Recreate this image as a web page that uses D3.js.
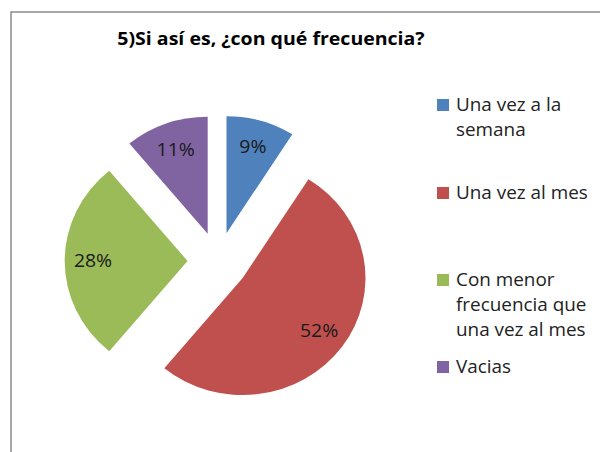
<!DOCTYPE html>
<html>
<head>
<meta charset="utf-8">
<script src="https://cdn.jsdelivr.net/npm/d3@7"></script>
<style>
  body { margin: 0; background: #fff; }
  svg { display: block; font-family: "Open Sans", Lato, sans-serif; }
</style>
</head>
<body>
<svg class="board" width="600" height="452"></svg>
<script>
var title = '5)Si así es, ¿con qué frecuencia?';
var categories = ['Una vez a la semana', 'Una vez al mes', 'Con menor frecuencia que una vez al mes', 'Vacias'];
var legendLines = [['Una vez a la', 'semana'], ['Una vez al mes'], ['Con menor', 'frecuencia que', 'una vez al mes'], ['Vacias']];
var values = [9, 52, 28, 11];
var colors = ['#4F81BD', '#C0504D', '#9BBB59', '#8064A2'];

var board = d3.select('.board');
// the whole picture is a little wider than tall
var stretch = 1.05;

// chart frame, runs off the right and bottom edges
board.append('rect')
  .attr('x', 11).attr('y', 12)
  .attr('width', 620).attr('height', 460)
  .attr('fill', '#fff')
  .attr('stroke', '#8a8a8a')
  .attr('stroke-width', 1.5);

board.append('text')
  .attr('transform', 'translate(271,45) scale(' + stretch + ',1)')
  .attr('text-anchor', 'middle')
  .attr('font-weight', 'bold')
  .attr('font-size', 18.6)
  .attr('fill', '#000')
  .text(title);

var radius = 117;
var explode = 29;

var pie = d3.pie().sort(null).value(d => d);
var arc = d3.arc().innerRadius(0).outerRadius(radius);
var shift = d3.arc().innerRadius(explode).outerRadius(explode);
var labelArc = d3.arc().innerRadius(90).outerRadius(90);

var pieRoot = board.append('g')
  .attr('transform', 'translate(218,261) scale(' + stretch + ',1)');

var slices = pieRoot.selectAll('.slice').data(pie(values))
  .enter().append('g').classed('slice', true)
  .attr('transform', d => 'translate(' + shift.centroid(d) + ')');

slices.append('path')
  .attr('d', arc)
  .attr('fill', (d, i) => colors[i]);

slices.append('text')
  .attr('transform', d => 'translate(' + labelArc.centroid(d) + ')')
  .attr('text-anchor', 'middle')
  .attr('dy', '0.35em')
  .attr('font-size', 18.5)
  .attr('fill', '#1a1a1a')
  .text(d => d.value + '%');

// legend
var legendY = [105, 193, 280, 367];
var legend = board.append('g').selectAll('.item').data(categories)
  .enter().append('g').classed('item', true)
  .attr('transform', (d, i) => 'translate(437,' + legendY[i] + ')');

legend.append('rect')
  .attr('x', 0).attr('y', -6)
  .attr('width', 12).attr('height', 12)
  .attr('fill', (d, i) => colors[i]);

legend.append('text')
  .attr('transform', 'translate(19,0) scale(' + stretch + ',1)')
  .attr('font-size', 18)
  .attr('fill', '#222')
  .selectAll('tspan').data((d, i) => legendLines[i])
  .enter().append('tspan')
  .attr('x', 0)
  .attr('y', (d, j) => j * 25)
  .attr('dy', '0.35em')
  .text(d => d);
</script>
</body>
</html>
